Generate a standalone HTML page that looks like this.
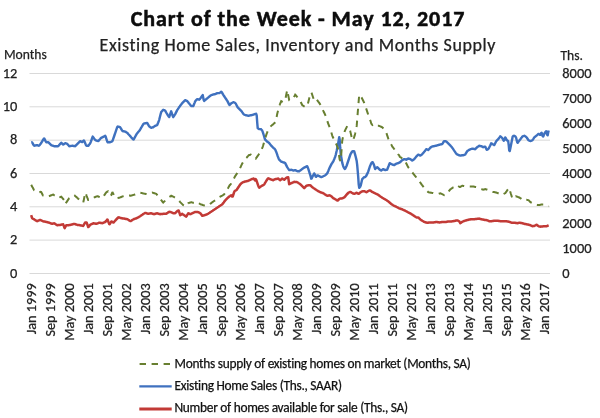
<!DOCTYPE html>
<html><head><meta charset="utf-8"><style>
html,body{margin:0;padding:0;background:#fff;}
body{width:600px;height:418px;overflow:hidden;position:relative;}
svg{position:absolute;left:0;top:0;}
text{font-family:Carlito,"Liberation Sans",sans-serif;fill:#222;stroke:#222;stroke-width:0.25px;}
.ax{font-size:14.4px;}
.xl{font-size:14.3px;}
.t1{font-size:22px;font-weight:bold;fill:#0d0d0d;letter-spacing:0.92px;stroke:#0d0d0d;stroke-width:0.5px;}
.t2{font-size:18px;letter-spacing:0.58px;}
.lab{font-size:13.6px;}
.lg{font-size:13.4px;letter-spacing:-0.28px;fill:#111;stroke:#111;}
</style></head><body>
<svg width="600" height="418" viewBox="0 0 600 418">
<text x="298" y="26" text-anchor="middle" class="t1">Chart of the Week - May 12, 2017</text>
<text x="297.8" y="51.3" text-anchor="middle" class="t2">Existing Home Sales, Inventory and Months Supply</text>
<text x="4" y="58.8" class="lab">Months</text>
<text x="560.5" y="59.7" class="lab">Ths.</text>
<line x1="29.5" y1="73.5" x2="550" y2="73.5" stroke="#d9d9d9" stroke-width="1"/>
<line x1="29.5" y1="106.8" x2="550" y2="106.8" stroke="#d9d9d9" stroke-width="1"/>
<line x1="29.5" y1="140.2" x2="550" y2="140.2" stroke="#d9d9d9" stroke-width="1"/>
<line x1="29.5" y1="173.5" x2="550" y2="173.5" stroke="#d9d9d9" stroke-width="1"/>
<line x1="29.5" y1="206.8" x2="550" y2="206.8" stroke="#d9d9d9" stroke-width="1"/>
<line x1="29.5" y1="240.1" x2="550" y2="240.1" stroke="#d9d9d9" stroke-width="1"/>
<line x1="29.5" y1="273.5" x2="550" y2="273.5" stroke="#d9d9d9" stroke-width="1"/>
<polyline points="31.2,215.2 31.7,217.0 32.2,218.3 32.7,218.6 33.2,218.8 33.7,219.1 34.2,219.4 34.7,219.7 35.2,220.0 35.7,220.4 36.2,220.7 36.7,221.0 37.2,221.2 37.7,221.0 38.2,220.7 38.7,220.5 39.2,220.3 39.7,220.0 40.2,219.9 40.7,220.1 41.2,220.4 41.7,220.6 42.2,220.8 42.7,221.1 43.2,221.3 43.7,221.4 44.2,221.5 44.7,221.6 45.2,221.7 45.7,221.8 46.2,221.9 46.7,222.0 47.2,222.2 47.7,222.3 48.2,222.4 48.7,222.6 49.2,222.7 49.7,222.9 50.2,223.1 50.7,223.3 51.2,223.5 51.7,223.7 52.2,223.8 52.7,223.7 53.2,223.5 53.7,223.4 54.2,223.3 54.7,223.6 55.2,224.0 55.7,224.3 56.2,224.6 56.7,225.0 57.2,225.3 57.7,225.2 58.2,225.1 58.7,225.1 59.2,225.0 59.7,224.9 60.2,224.9 60.7,224.8 61.2,224.7 61.7,224.6 62.2,224.5 62.7,224.4 63.2,224.3 63.7,225.7 64.2,227.2 64.7,228.1 65.2,227.2 65.7,226.2 66.2,225.3 66.7,225.3 67.2,225.3 67.7,225.3 68.2,225.3 68.7,225.2 69.2,225.1 69.7,225.0 70.2,224.9 70.7,224.8 71.2,224.7 71.7,224.5 72.2,224.4 72.7,224.3 73.2,224.1 73.7,224.0 74.2,223.9 74.7,224.0 75.2,224.2 75.7,224.4 76.2,224.5 76.7,224.7 77.2,224.9 77.7,224.9 78.2,225.0 78.7,225.1 79.2,225.1 79.7,225.2 80.2,225.3 80.7,225.4 81.2,225.5 81.7,225.6 82.2,225.7 82.7,225.8 83.2,225.9 83.7,225.1 84.2,224.2 84.7,223.3 85.2,222.4 85.7,222.4 86.2,222.5 86.7,222.7 87.2,224.1 87.7,225.5 88.2,227.0 88.7,226.8 89.2,226.1 89.7,225.5 90.2,224.8 90.7,224.5 91.2,224.3 91.7,224.0 92.2,223.8 92.7,223.6 93.2,223.3 93.7,223.3 94.2,223.4 94.7,223.5 95.2,223.6 95.7,223.7 96.2,223.8 96.7,223.7 97.2,223.5 97.7,223.3 98.2,223.1 98.7,222.9 99.2,222.7 99.7,222.7 100.2,222.8 100.7,222.9 101.2,223.0 101.7,223.1 102.2,223.2 102.7,223.1 103.2,222.9 103.7,222.7 104.2,222.4 104.7,222.2 105.2,222.0 105.7,221.5 106.2,220.8 106.7,220.2 107.2,219.5 107.7,220.0 108.2,221.4 108.7,222.7 109.2,224.1 109.7,224.2 110.2,223.3 110.7,222.5 111.2,221.6 111.7,221.4 112.2,221.8 112.7,222.1 113.2,222.5 113.7,222.4 114.2,221.8 114.7,221.2 115.2,220.7 115.7,220.1 116.2,219.5 116.7,219.0 117.2,218.5 117.7,218.0 118.2,217.5 118.7,217.3 119.2,217.5 119.7,217.6 120.2,217.8 120.7,218.0 121.2,218.1 121.7,218.3 122.2,218.3 122.7,218.4 123.2,218.5 123.7,218.5 124.2,218.6 124.7,218.7 125.2,218.8 125.7,218.9 126.2,219.0 126.7,219.1 127.2,219.2 127.7,219.4 128.2,219.7 128.7,220.0 129.2,220.4 129.7,220.7 130.2,221.0 130.7,221.1 131.2,220.8 131.7,220.5 132.2,220.1 132.7,219.8 133.2,219.5 133.7,219.2 134.2,219.0 134.7,218.9 135.2,218.7 135.7,218.5 136.2,218.4 136.7,218.2 137.2,217.9 137.7,217.6 138.2,217.4 138.7,217.1 139.2,216.8 139.7,216.5 140.2,216.2 140.7,215.8 141.2,215.5 141.7,215.1 142.2,214.8 142.7,214.5 143.2,214.1 143.7,213.8 144.2,213.5 144.7,213.2 145.2,213.0 145.7,212.9 146.2,213.1 146.7,213.3 147.2,213.5 147.7,213.7 148.2,213.8 148.7,213.7 149.2,213.6 149.7,213.5 150.2,213.4 150.7,213.3 151.2,213.3 151.7,213.4 152.2,213.6 152.7,213.8 153.2,213.9 153.7,214.1 154.2,214.2 154.7,214.0 155.2,213.8 155.7,213.7 156.2,213.5 156.7,213.3 157.2,213.3 157.7,213.4 158.2,213.6 158.7,213.8 159.2,213.9 159.7,214.1 160.2,214.2 160.7,214.1 161.2,214.1 161.7,214.0 162.2,213.9 162.7,213.9 163.2,213.8 163.7,213.8 164.2,213.8 164.7,213.8 165.2,213.8 165.7,213.8 166.2,213.8 166.7,213.4 167.2,213.1 167.7,212.8 168.2,212.4 168.7,212.1 169.2,211.8 169.7,211.9 170.2,212.0 170.7,212.1 171.2,212.2 171.7,212.5 172.2,212.7 172.7,213.0 173.2,213.2 173.7,213.2 174.2,213.2 174.7,213.2 175.2,213.2 175.7,212.7 176.2,212.2 176.7,211.7 177.2,211.2 177.7,210.8 178.2,210.5 178.7,210.5 179.2,212.1 179.7,213.6 180.2,215.2 180.7,214.9 181.2,214.5 181.7,214.2 182.2,213.8 182.7,214.2 183.2,214.5 183.7,214.9 184.2,215.2 184.7,215.6 185.2,215.9 185.7,216.3 186.2,216.6 186.7,215.9 187.2,215.0 187.7,214.2 188.2,213.3 188.7,213.4 189.2,213.7 189.7,213.9 190.2,214.2 190.7,214.0 191.2,213.8 191.7,213.5 192.2,213.3 192.7,213.0 193.2,212.8 193.7,212.6 194.2,212.3 194.7,212.1 195.2,211.9 195.7,211.9 196.2,211.9 196.7,212.0 197.2,212.1 197.7,212.1 198.2,212.2 198.7,212.4 199.2,212.7 199.7,212.9 200.2,213.2 200.7,213.7 201.2,214.4 201.7,215.0 202.2,215.7 202.7,215.7 203.2,215.6 203.7,215.4 204.2,215.3 204.7,215.1 205.2,214.9 205.7,214.8 206.2,214.6 206.7,214.4 207.2,214.3 207.7,214.0 208.2,213.7 208.7,213.3 209.2,213.0 209.7,212.7 210.2,212.3 210.7,212.0 211.2,211.7 211.7,211.3 212.2,211.0 212.7,210.7 213.2,210.3 213.7,210.0 214.2,209.7 214.7,209.3 215.2,209.0 215.7,208.7 216.2,208.3 216.7,208.0 217.2,207.7 217.7,207.3 218.2,207.0 218.7,206.7 219.2,206.3 219.7,206.0 220.2,205.7 220.7,205.3 221.2,205.0 221.7,204.7 222.2,204.3 222.7,203.8 223.2,203.1 223.7,202.5 224.2,201.8 224.7,201.1 225.2,200.5 225.7,199.9 226.2,199.4 226.7,198.9 227.2,198.4 227.7,197.9 228.2,197.4 228.7,197.0 229.2,196.6 229.7,196.3 230.2,196.0 230.7,195.6 231.2,195.3 231.7,195.6 232.2,196.6 232.7,196.5 233.2,195.0 233.7,193.5 234.2,192.0 234.7,191.0 235.2,190.7 235.7,190.5 236.2,190.2 236.7,189.8 237.2,189.0 237.7,188.3 238.2,187.5 238.7,186.8 239.2,186.0 239.7,185.3 240.2,184.5 240.7,183.9 241.2,183.5 241.7,183.1 242.2,182.7 242.7,182.4 243.2,182.2 243.7,182.0 244.2,181.8 244.7,181.6 245.2,181.5 245.7,181.4 246.2,181.3 246.7,181.2 247.2,181.1 247.7,181.0 248.2,180.8 248.7,180.5 249.2,180.3 249.7,180.1 250.2,179.8 250.7,179.6 251.2,179.4 251.7,179.2 252.2,179.0 252.7,178.8 253.2,178.6 253.7,178.6 254.2,179.2 254.7,179.9 255.2,180.5 255.7,179.1 256.2,179.7 256.7,181.2 257.2,182.7 257.7,184.2 258.2,185.6 258.7,186.9 259.2,187.7 259.7,187.3 260.2,186.9 260.7,186.5 261.2,186.2 261.7,185.9 262.2,185.6 262.7,185.4 263.2,185.1 263.7,184.8 264.2,184.4 264.7,183.6 265.2,182.7 265.7,181.9 266.2,181.0 266.7,180.3 267.2,179.5 267.7,178.8 268.2,178.2 268.7,178.5 269.2,178.7 269.7,179.0 270.2,179.2 270.7,179.4 271.2,179.6 271.7,179.7 272.2,179.9 272.7,180.1 273.2,180.2 273.7,179.9 274.2,179.7 274.7,179.4 275.2,179.2 275.7,179.1 276.2,179.0 276.7,178.9 277.2,178.8 277.7,178.7 278.2,178.6 278.7,179.0 279.2,179.4 279.7,179.8 280.2,180.2 280.7,179.8 281.2,179.4 281.7,179.0 282.2,178.6 282.7,178.9 283.2,179.2 283.7,179.5 284.2,179.8 284.7,179.3 285.2,178.8 285.7,178.3 286.2,177.8 286.7,177.6 287.2,177.5 287.7,177.3 288.2,177.2 288.7,180.7 289.2,184.2 289.7,184.0 290.2,183.7 290.7,183.5 291.2,183.2 291.7,183.0 292.2,182.8 292.7,182.5 293.2,182.3 293.7,182.1 294.2,181.8 294.7,181.9 295.2,181.9 295.7,182.0 296.2,182.1 296.7,182.1 297.2,182.2 297.7,182.5 298.2,182.8 298.7,183.2 299.2,183.5 299.7,183.8 300.2,184.2 300.7,184.7 301.2,185.2 301.7,185.7 302.2,186.2 302.7,186.7 303.2,187.2 303.7,187.7 304.2,188.2 304.7,187.7 305.2,187.1 305.7,186.5 306.2,185.9 306.7,185.7 307.2,185.6 307.7,185.4 308.2,185.3 308.7,185.2 309.2,185.2 309.7,185.2 310.2,185.2 310.7,185.6 311.2,186.1 311.7,186.6 312.2,187.1 312.7,187.5 313.2,187.8 313.7,188.2 314.2,188.5 314.7,188.8 315.2,189.2 315.7,189.5 316.2,189.8 316.7,190.2 317.2,190.5 317.7,190.8 318.2,191.2 318.7,191.4 319.2,191.7 319.7,191.9 320.2,192.2 320.7,192.4 321.2,192.5 321.7,192.7 322.2,192.9 322.7,193.0 323.2,193.2 323.7,193.5 324.2,193.8 324.7,194.2 325.2,194.5 325.7,194.9 326.2,195.2 326.7,195.5 327.2,195.8 327.7,195.8 328.2,195.6 328.7,195.5 329.2,195.3 329.7,195.4 330.2,195.7 330.7,195.9 331.2,196.2 331.7,196.6 332.2,197.1 332.7,197.6 333.2,198.1 333.7,198.4 334.2,198.7 334.7,198.9 335.2,199.2 335.7,199.5 336.2,199.8 336.7,200.2 337.2,200.5 337.7,200.5 338.2,200.0 338.7,199.5 339.2,199.0 339.7,198.7 340.2,198.6 340.7,198.5 341.2,198.5 341.7,198.4 342.2,198.3 342.7,198.2 343.2,197.9 343.7,197.7 344.2,197.4 344.7,197.0 345.2,196.4 345.7,195.7 346.2,195.1 346.7,194.5 347.2,194.0 347.7,193.5 348.2,193.0 348.7,192.6 349.2,192.4 349.7,192.2 350.2,192.0 350.7,192.0 351.2,192.3 351.7,192.7 352.2,193.0 352.7,193.3 353.2,193.5 353.7,193.6 354.2,193.8 354.7,193.8 355.2,193.5 355.7,193.2 356.2,192.9 356.7,192.8 357.2,193.1 357.7,193.4 358.2,193.7 358.7,193.8 359.2,193.4 359.7,193.0 360.2,192.6 360.7,192.2 361.2,191.9 361.7,191.7 362.2,191.4 362.7,191.3 363.2,191.3 363.7,191.3 364.2,191.3 364.7,191.3 365.2,191.6 365.7,191.8 366.2,192.1 366.7,192.2 367.2,191.7 367.7,191.4 368.2,191.2 368.7,190.9 369.2,190.7 369.7,190.4 370.2,190.4 370.7,190.8 371.2,191.2 371.7,191.6 372.2,191.9 372.7,192.2 373.2,192.4 373.7,192.6 374.2,192.9 374.7,193.1 375.2,193.3 375.7,193.6 376.2,193.8 376.7,194.0 377.2,194.3 377.7,194.5 378.2,194.8 378.7,195.2 379.2,195.6 379.7,196.0 380.2,196.3 380.7,196.7 381.2,197.0 381.7,197.3 382.2,197.7 382.7,198.0 383.2,198.3 383.7,198.6 384.2,198.8 384.7,199.1 385.2,199.3 385.7,199.7 386.2,200.0 386.7,200.3 387.2,200.7 387.7,201.0 388.2,201.3 388.7,201.8 389.2,202.2 389.7,202.6 390.2,203.1 390.7,203.5 391.2,203.9 391.7,204.3 392.2,204.6 392.7,205.0 393.2,205.3 393.7,205.6 394.2,205.8 394.7,206.0 395.2,206.3 395.7,206.5 396.2,206.7 396.7,207.0 397.2,207.3 397.7,207.5 398.2,207.8 398.7,208.1 399.2,208.3 399.7,208.5 400.2,208.7 400.7,208.8 401.2,209.0 401.7,209.2 402.2,209.3 402.7,209.6 403.2,209.8 403.7,210.0 404.2,210.3 404.7,210.5 405.2,210.7 405.7,211.0 406.2,211.3 406.7,211.5 407.2,211.8 407.7,212.1 408.2,212.3 408.7,212.6 409.2,212.9 409.7,213.1 410.2,213.4 410.7,213.7 411.2,213.9 411.7,214.3 412.2,214.6 412.7,214.9 413.2,215.3 413.7,215.6 414.2,215.9 414.7,216.3 415.2,216.6 415.7,217.0 416.2,217.3 416.7,217.4 417.2,217.4 417.7,217.4 418.2,217.4 418.7,217.8 419.2,218.3 419.7,218.8 420.2,219.3 420.7,219.7 421.2,220.0 421.7,220.4 422.2,220.7 422.7,221.0 423.2,221.3 423.7,221.6 424.2,221.9 424.7,222.1 425.2,222.2 425.7,222.4 426.2,222.5 426.7,222.6 427.2,222.8 427.7,222.8 428.2,222.7 428.7,222.6 429.2,222.6 429.7,222.5 430.2,222.4 430.7,222.4 431.2,222.4 431.7,222.4 432.2,222.4 432.7,222.4 433.2,222.4 433.7,222.4 434.2,222.3 434.7,222.2 435.2,222.2 435.7,222.1 436.2,222.0 436.7,222.1 437.2,222.1 437.7,222.2 438.2,222.3 438.7,222.3 439.2,222.4 439.7,222.4 440.2,222.3 440.7,222.2 441.2,222.2 441.7,222.1 442.2,222.0 442.7,222.0 443.2,222.0 443.7,222.0 444.2,222.0 444.7,222.0 445.2,222.0 445.7,222.0 446.2,221.9 446.7,221.8 447.2,221.7 447.7,221.6 448.2,221.5 448.7,221.4 449.2,221.4 449.7,221.4 450.2,221.4 450.7,221.4 451.2,221.4 451.7,221.4 452.2,221.3 452.7,221.2 453.2,221.2 453.7,221.1 454.2,221.0 454.7,220.9 455.2,220.8 455.7,220.6 456.2,220.5 456.7,220.4 457.2,220.5 457.7,220.6 458.2,220.7 458.7,221.0 459.2,221.4 459.7,221.8 460.2,223.2 460.7,222.9 461.2,222.5 461.7,222.2 462.2,221.8 462.7,221.6 463.2,221.4 463.7,221.2 464.2,221.0 464.7,220.8 465.2,220.6 465.7,220.5 466.2,220.4 466.7,220.2 467.2,220.1 467.7,220.0 468.2,219.8 468.7,219.7 469.2,219.6 469.7,219.5 470.2,219.4 470.7,219.3 471.2,219.2 471.7,219.2 472.2,219.2 472.7,219.2 473.2,219.2 473.7,219.2 474.2,219.2 474.7,219.2 475.2,219.1 475.7,219.0 476.2,219.0 476.7,218.9 477.2,218.8 477.7,218.8 478.2,218.7 478.7,218.7 479.2,218.6 479.7,218.8 480.2,218.9 480.7,219.1 481.2,219.2 481.7,219.3 482.2,219.4 482.7,219.5 483.2,219.6 483.7,219.7 484.2,219.8 484.7,219.9 485.2,220.0 485.7,220.0 486.2,220.1 486.7,220.2 487.2,220.2 487.7,220.5 488.2,220.7 488.7,221.0 489.2,221.2 489.7,221.3 490.2,221.3 490.7,221.3 491.2,221.3 491.7,221.2 492.2,221.1 492.7,221.0 493.2,220.9 493.7,220.8 494.2,220.7 494.7,220.7 495.2,220.7 495.7,220.7 496.2,220.7 496.7,220.7 497.2,220.7 497.7,220.7 498.2,220.8 498.7,220.9 499.2,221.0 499.7,221.1 500.2,221.2 500.7,221.3 501.2,221.3 501.7,221.3 502.2,221.3 502.7,221.3 503.2,221.3 503.7,221.3 504.2,221.3 504.7,221.3 505.2,221.3 505.7,221.3 506.2,221.3 506.7,221.3 507.2,221.4 507.7,221.5 508.2,221.6 508.7,221.7 509.2,221.8 509.7,222.0 510.2,222.2 510.7,222.4 511.2,222.6 511.7,222.7 512.2,222.7 512.7,222.7 513.2,222.7 513.7,222.7 514.2,222.7 514.7,222.7 515.2,222.8 515.7,222.9 516.2,223.0 516.7,223.1 517.2,223.2 517.7,223.2 518.2,223.0 518.7,222.9 519.2,222.7 519.7,222.7 520.2,222.8 520.7,222.9 521.2,223.0 521.7,223.1 522.2,223.2 522.7,223.3 523.2,223.5 523.7,223.6 524.2,223.8 524.7,223.9 525.2,224.0 525.7,224.1 526.2,224.2 526.7,224.3 527.2,224.4 527.7,224.5 528.2,224.6 528.7,224.7 529.2,224.9 529.7,225.0 530.2,225.2 530.7,225.4 531.2,225.6 531.7,225.9 532.2,226.1 532.7,226.2 533.2,226.1 533.7,226.0 534.2,225.9 534.7,225.8 535.2,225.5 535.7,225.2 536.2,224.9 536.7,224.8 537.2,225.2 537.7,225.6 538.2,226.0 538.7,226.3 539.2,226.4 539.7,226.5 540.2,226.6 540.7,226.7 541.2,226.6 541.7,226.5 542.2,226.5 542.7,226.4 543.2,226.3 543.7,226.3 544.2,226.3 544.7,226.3 545.2,226.3 545.7,226.3 546.2,226.3 546.7,226.2 547.2,226.0 547.7,225.7 548.2,225.5 548.7,225.3" fill="none" stroke="#c23a36" stroke-width="2.5" stroke-linejoin="round"/>
<polyline points="31.2,142.2 31.7,142.2 32.2,142.5 32.7,143.4 33.2,144.3 33.7,145.2 34.2,145.7 34.7,145.6 35.2,145.5 35.7,145.4 36.2,145.3 36.7,145.2 37.2,145.2 37.7,145.4 38.2,145.5 38.7,145.7 39.2,145.6 39.7,145.0 40.2,144.3 40.7,143.7 41.2,143.0 41.7,142.1 42.2,141.3 42.7,140.5 43.2,139.6 43.7,138.8 44.2,138.4 44.7,139.4 45.2,140.4 45.7,141.4 46.2,142.2 46.7,142.2 47.2,142.2 47.7,142.2 48.2,142.2 48.7,142.7 49.2,143.2 49.7,143.7 50.2,144.2 50.7,144.7 51.2,145.2 51.7,145.4 52.2,145.5 52.7,145.7 53.2,145.9 53.7,146.0 54.2,146.2 54.7,146.2 55.2,146.2 55.7,146.2 56.2,146.2 56.7,146.2 57.2,146.2 57.7,146.2 58.2,146.1 58.7,145.6 59.2,145.0 59.7,144.4 60.2,143.9 60.7,143.3 61.2,142.8 61.7,143.2 62.2,143.7 62.7,144.1 63.2,144.6 63.7,144.2 64.2,143.9 64.7,143.5 65.2,143.2 65.7,143.3 66.2,143.5 66.7,143.6 67.2,143.8 67.7,144.4 68.2,145.0 68.7,145.6 69.2,146.2 69.7,146.1 70.2,146.1 70.7,146.0 71.2,145.9 71.7,145.9 72.2,145.8 72.7,145.8 73.2,145.9 73.7,146.0 74.2,146.0 74.7,146.1 75.2,146.2 75.7,145.7 76.2,145.2 76.7,144.7 77.2,144.2 77.7,143.7 78.2,143.2 78.7,142.7 79.2,142.2 79.7,141.7 80.2,141.2 80.7,141.4 81.2,141.6 81.7,141.9 82.2,142.1 82.7,141.6 83.2,141.0 83.7,140.4 84.2,140.9 84.7,142.0 85.2,143.2 85.7,144.4 86.2,145.5 86.7,145.8 87.2,145.8 87.7,145.8 88.2,145.8 88.7,145.3 89.2,144.6 89.7,144.0 90.2,143.3 90.7,142.1 91.2,140.8 91.7,139.4 92.2,138.0 92.7,136.6 93.2,137.2 93.7,137.9 94.2,138.6 94.7,139.3 95.2,139.9 95.7,140.3 96.2,140.4 96.7,140.6 97.2,140.8 97.7,140.9 98.2,141.1 98.7,140.7 99.2,140.1 99.7,139.5 100.2,138.9 100.7,138.2 101.2,137.9 101.7,137.7 102.2,137.4 102.7,137.2 103.2,136.9 103.7,136.6 104.2,136.4 104.7,136.1 105.2,135.8 105.7,136.7 106.2,138.3 106.7,139.9 107.2,141.5 107.7,142.2 108.2,142.2 108.7,142.2 109.2,142.2 109.7,142.2 110.2,142.2 110.7,142.0 111.2,141.8 111.7,141.5 112.2,141.3 112.7,140.4 113.2,138.9 113.7,137.5 114.2,136.0 114.7,134.5 115.2,133.1 115.7,131.6 116.2,130.2 116.7,128.7 117.2,127.2 117.7,126.5 118.2,126.7 118.7,126.8 119.2,126.9 119.7,127.0 120.2,127.3 120.7,128.1 121.2,129.0 121.7,129.8 122.2,130.6 122.7,131.1 123.2,131.2 123.7,131.3 124.2,131.4 124.7,131.5 125.2,131.6 125.7,131.8 126.2,132.2 126.7,132.5 127.2,132.9 127.7,133.3 128.2,133.9 128.7,134.5 129.2,135.0 129.7,135.6 130.2,136.2 130.7,136.7 131.2,137.3 131.7,137.8 132.2,138.3 132.7,138.9 133.2,139.4 133.7,139.5 134.2,138.5 134.7,137.6 135.2,136.7 135.7,135.7 136.2,134.8 136.7,133.9 137.2,133.3 137.7,132.7 138.2,132.1 138.7,131.5 139.2,130.9 139.7,130.3 140.2,129.4 140.7,128.6 141.2,127.7 141.7,126.9 142.2,126.0 142.7,125.2 143.2,124.3 143.7,123.6 144.2,123.5 144.7,123.4 145.2,123.3 145.7,123.2 146.2,123.1 146.7,123.0 147.2,122.9 147.7,123.8 148.2,124.7 148.7,125.6 149.2,126.3 149.7,126.7 150.2,127.1 150.7,127.5 151.2,127.8 151.7,127.6 152.2,127.5 152.7,127.3 153.2,127.2 153.7,126.8 154.2,126.5 154.7,126.1 155.2,125.8 155.7,125.6 156.2,125.5 156.7,125.3 157.2,125.0 157.7,123.7 158.2,122.5 158.7,121.2 159.2,119.8 159.7,117.8 160.2,115.8 160.7,113.8 161.2,112.1 161.7,111.5 162.2,110.9 162.7,110.3 163.2,109.8 163.7,110.0 164.2,110.2 164.7,110.4 165.2,110.7 165.7,111.6 166.2,112.5 166.7,113.4 167.2,114.2 167.7,115.0 168.2,115.7 168.7,116.5 169.2,117.1 169.7,115.6 170.2,114.1 170.7,112.6 171.2,111.3 171.7,112.8 172.2,114.3 172.7,115.8 173.2,117.2 173.7,116.4 174.2,115.7 174.7,114.9 175.2,114.1 175.7,113.1 176.2,112.1 176.7,111.1 177.2,110.1 177.7,109.4 178.2,108.6 178.7,107.9 179.2,107.1 179.7,106.5 180.2,105.8 180.7,105.1 181.2,104.5 181.7,103.8 182.2,103.1 182.7,102.6 183.2,102.1 183.7,101.6 184.2,101.1 184.7,100.6 185.2,100.1 185.7,100.3 186.2,100.6 186.7,100.8 187.2,101.1 187.7,101.7 188.2,102.3 188.7,103.0 189.2,103.6 189.7,104.2 190.2,104.8 190.7,105.4 191.2,106.0 191.7,106.1 192.2,106.1 192.7,106.1 193.2,106.1 193.7,105.1 194.2,103.8 194.7,102.6 195.2,101.3 195.7,100.7 196.2,100.2 196.7,99.7 197.2,99.2 197.7,99.2 198.2,99.4 198.7,99.5 199.2,99.7 199.7,99.2 200.2,98.5 200.7,97.9 201.2,97.2 201.7,96.5 202.2,95.8 202.7,95.1 203.2,97.4 203.7,99.9 204.2,100.9 204.7,100.5 205.2,100.0 205.7,99.6 206.2,99.2 206.7,98.8 207.2,98.4 207.7,97.9 208.2,97.5 208.7,97.1 209.2,96.6 209.7,96.2 210.2,95.9 210.7,95.5 211.2,95.2 211.7,95.0 212.2,94.8 212.7,94.7 213.2,94.5 213.7,94.4 214.2,94.3 214.7,94.2 215.2,94.1 215.7,93.9 216.2,93.7 216.7,93.4 217.2,93.2 217.7,93.1 218.2,93.1 218.7,93.1 219.2,93.1 219.7,92.9 220.2,92.5 220.7,92.2 221.2,91.8 221.7,92.1 222.2,93.0 222.7,93.8 223.2,94.7 223.7,95.5 224.2,96.2 224.7,97.0 225.2,97.7 225.7,98.5 226.2,99.2 226.7,100.0 227.2,100.7 227.7,101.6 228.2,102.6 228.7,103.6 229.2,104.6 229.7,104.9 230.2,104.4 230.7,103.9 231.2,103.4 231.7,103.0 232.2,102.8 232.7,102.5 233.2,102.3 233.7,102.2 234.2,102.5 234.7,102.7 235.2,103.0 235.7,103.5 236.2,104.5 236.7,105.5 237.2,106.5 237.7,107.3 238.2,107.8 238.7,108.3 239.2,108.8 239.7,109.3 240.2,109.8 240.7,110.3 241.2,110.8 241.7,111.4 242.2,112.2 242.7,112.9 243.2,113.7 243.7,114.3 244.2,114.5 244.7,114.8 245.2,115.0 245.7,115.2 246.2,115.3 246.7,115.4 247.2,115.5 247.7,115.6 248.2,115.7 248.7,115.7 249.2,115.6 249.7,115.5 250.2,115.4 250.7,115.3 251.2,115.2 251.7,115.1 252.2,115.0 252.7,114.8 253.2,114.6 253.7,114.5 254.2,114.3 254.7,114.1 255.2,114.0 255.7,113.9 256.2,113.8 256.7,115.3 257.2,122.4 257.7,128.1 258.2,128.5 258.7,128.9 259.2,129.1 259.7,129.1 260.2,129.1 260.7,129.1 261.2,129.4 261.7,130.0 262.2,130.6 262.7,131.9 263.2,133.4 263.7,135.0 264.2,136.7 264.7,138.5 265.2,139.7 265.7,140.2 266.2,140.7 266.7,141.2 267.2,141.6 267.7,141.9 268.2,142.3 268.7,142.6 269.2,143.1 269.7,143.7 270.2,144.4 270.7,145.1 271.2,145.7 271.7,146.2 272.2,146.7 272.7,147.2 273.2,147.6 273.7,148.1 274.2,148.5 274.7,148.9 275.2,149.6 275.7,150.7 276.2,151.8 276.7,153.2 277.2,154.7 277.7,156.2 278.2,157.4 278.7,158.7 279.2,159.7 279.7,160.2 280.2,160.7 280.7,161.2 281.2,161.6 281.7,161.8 282.2,161.9 282.7,162.1 283.2,162.3 283.7,162.6 284.2,162.4 284.7,162.8 285.2,163.1 285.7,164.1 286.2,165.1 286.7,166.1 287.2,167.1 287.7,167.9 288.2,168.6 288.7,169.4 289.2,170.1 289.7,170.1 290.2,170.0 290.7,169.9 291.2,169.8 291.7,169.9 292.2,170.1 292.7,170.3 293.2,170.5 293.7,170.5 294.2,170.4 294.7,170.3 295.2,170.2 295.7,170.4 296.2,170.6 296.7,170.9 297.2,171.1 297.7,171.2 298.2,171.2 298.7,171.2 299.2,171.2 299.7,170.8 300.2,170.5 300.7,170.1 301.2,169.8 301.7,169.4 302.2,169.0 302.7,168.6 303.2,168.2 303.7,167.9 304.2,167.7 304.7,167.4 305.2,167.2 305.7,166.9 306.2,166.7 306.7,166.4 307.2,166.2 307.7,167.3 308.2,168.7 308.7,170.1 309.2,171.7 309.7,173.3 310.2,174.8 310.7,176.7 311.2,178.7 311.7,178.4 312.2,177.3 312.7,176.2 313.2,175.3 313.7,174.4 314.2,173.4 314.7,174.1 315.2,175.3 315.7,176.6 316.2,176.8 316.7,176.1 317.2,175.4 317.7,175.4 318.2,175.6 318.7,175.9 319.2,176.1 319.7,176.4 320.2,176.6 320.7,176.9 321.2,177.1 321.7,177.0 322.2,176.8 322.7,176.5 323.2,176.3 323.7,176.0 324.2,175.8 324.7,175.5 325.2,175.3 325.7,174.9 326.2,174.4 326.7,173.9 327.2,173.4 327.7,172.4 328.2,171.2 328.7,169.9 329.2,168.7 329.7,167.6 330.2,166.6 330.7,165.6 331.2,164.6 331.7,163.7 332.2,163.0 332.7,162.2 333.2,161.5 333.7,160.4 334.2,159.2 334.7,157.9 335.2,156.7 335.7,155.0 336.2,152.8 336.7,150.7 337.2,148.3 337.7,145.8 338.2,143.1 338.7,140.1 339.2,137.1 339.7,139.5 340.2,147.7 340.7,153.5 341.2,156.7 341.7,159.8 342.2,162.6 342.7,164.3 343.2,166.1 343.7,167.4 344.2,168.2 344.7,168.9 345.2,168.6 345.7,167.6 346.2,166.7 346.7,165.5 347.2,164.0 347.7,162.5 348.2,161.0 348.7,159.5 349.2,158.0 349.7,156.5 350.2,155.0 350.7,153.8 351.2,153.0 351.7,152.3 352.2,151.5 352.7,151.1 353.2,151.1 353.7,151.1 354.2,151.3 354.7,153.1 355.2,154.9 355.7,156.8 356.2,158.9 356.7,161.1 357.2,165.1 357.7,170.9 358.2,176.9 358.7,184.4 359.2,187.9 359.7,187.3 360.2,186.7 360.7,185.6 361.2,183.5 361.7,181.3 362.2,179.2 362.7,178.7 363.2,178.2 363.7,177.7 364.2,177.2 364.7,177.1 365.2,177.0 365.7,176.4 366.2,175.9 366.7,174.9 367.2,173.9 367.7,172.9 368.2,171.7 368.7,170.1 369.2,168.6 369.7,167.0 370.2,165.8 370.7,164.6 371.2,163.5 371.7,162.8 372.2,162.1 372.7,162.2 373.2,163.2 373.7,164.3 374.2,165.6 374.7,167.6 375.2,169.0 375.7,168.5 376.2,168.0 376.7,167.5 377.2,167.2 377.7,167.7 378.2,168.2 378.7,168.7 379.2,169.2 379.7,169.6 380.2,169.9 380.7,170.3 381.2,170.5 381.7,170.1 382.2,169.8 382.7,169.4 383.2,169.2 383.7,169.4 384.2,169.7 384.7,169.9 385.2,170.1 385.7,170.0 386.2,169.9 386.7,169.8 387.2,169.6 387.7,168.3 388.2,167.0 388.7,165.8 389.2,164.5 389.7,163.3 390.2,163.4 390.7,163.7 391.2,164.0 391.7,164.2 392.2,164.5 392.7,164.7 393.2,164.8 393.7,165.0 394.2,165.1 394.7,164.8 395.2,164.4 395.7,164.1 396.2,163.7 396.7,163.6 397.2,163.4 397.7,163.3 398.2,163.1 398.7,162.9 399.2,162.6 399.7,162.4 400.2,162.1 400.7,161.6 401.2,161.1 401.7,160.6 402.2,160.1 402.7,159.9 403.2,159.6 403.7,159.4 404.2,159.1 404.7,159.2 405.2,159.4 405.7,159.5 406.2,159.7 406.7,159.4 407.2,159.1 407.7,158.8 408.2,158.5 408.7,158.6 409.2,158.8 409.7,158.9 410.2,159.1 410.7,159.4 411.2,159.8 411.7,160.1 412.2,160.5 412.7,160.2 413.2,159.9 413.7,159.5 414.2,159.2 414.7,158.6 415.2,157.9 415.7,157.3 416.2,156.6 416.7,156.1 417.2,155.6 417.7,155.1 418.2,154.6 418.7,154.7 419.2,155.0 419.7,155.3 420.2,155.6 420.7,155.4 421.2,155.0 421.7,154.6 422.2,154.2 422.7,153.6 423.2,153.0 423.7,152.4 424.2,151.8 424.7,151.2 425.2,150.5 425.7,149.9 426.2,149.2 426.7,149.2 427.2,149.5 427.7,149.7 428.2,150.0 428.7,149.6 429.2,149.0 429.7,148.4 430.2,147.8 430.7,147.4 431.2,147.1 431.7,146.8 432.2,146.5 432.7,146.4 433.2,146.3 433.7,146.2 434.2,146.1 434.7,146.0 435.2,145.9 435.7,145.8 436.2,145.7 436.7,145.5 437.2,145.4 437.7,145.2 438.2,145.1 438.7,144.9 439.2,144.8 439.7,144.6 440.2,144.5 440.7,144.4 441.2,144.3 441.7,144.2 442.2,144.1 442.7,143.5 443.2,142.5 443.7,141.7 444.2,141.2 444.7,141.1 445.2,141.2 445.7,141.4 446.2,141.5 446.7,141.9 447.2,142.4 447.7,142.9 448.2,143.4 448.7,143.9 449.2,144.4 449.7,144.9 450.2,145.4 450.7,145.9 451.2,146.5 451.7,147.1 452.2,147.7 452.7,148.4 453.2,149.1 453.7,149.9 454.2,150.6 454.7,151.4 455.2,152.1 455.7,152.9 456.2,153.6 456.7,154.2 457.2,154.4 457.7,154.7 458.2,154.9 458.7,155.1 459.2,155.3 459.7,155.4 460.2,155.6 460.7,155.6 461.2,155.5 461.7,155.3 462.2,155.2 462.7,155.2 463.2,155.2 463.7,155.1 464.2,154.9 464.7,154.8 465.2,154.5 465.7,153.7 466.2,152.8 466.7,152.0 467.2,151.2 467.7,150.8 468.2,150.5 468.7,150.1 469.2,149.8 469.7,149.6 470.2,149.4 470.7,149.2 471.2,149.0 471.7,148.8 472.2,148.6 472.7,148.7 473.2,148.8 473.7,148.9 474.2,149.0 474.7,149.1 475.2,149.2 475.7,148.7 476.2,148.2 476.7,147.7 477.2,147.2 477.7,146.8 478.2,146.5 478.7,146.1 479.2,145.8 479.7,145.9 480.2,146.0 480.7,146.1 481.2,146.2 481.7,146.4 482.2,146.7 482.7,146.9 483.2,147.2 483.7,147.0 484.2,146.9 484.7,146.7 485.2,146.6 485.7,147.6 486.2,148.8 486.7,149.8 487.2,149.6 487.7,149.4 488.2,149.2 488.7,148.4 489.2,147.4 489.7,146.5 490.2,145.5 490.7,144.4 491.2,143.3 491.7,143.5 492.2,143.8 492.7,144.2 493.2,144.5 493.7,144.8 494.2,145.1 494.7,144.3 495.2,143.3 495.7,142.3 496.2,141.3 496.7,140.7 497.2,140.2 497.7,139.7 498.2,139.2 498.7,138.6 499.2,137.8 499.7,137.1 500.2,136.3 500.7,136.5 501.2,137.0 501.7,137.5 502.2,138.0 502.7,138.8 503.2,139.8 503.7,140.7 504.2,140.4 504.7,139.0 505.2,137.5 505.7,137.9 506.2,139.0 506.7,140.1 507.2,140.4 507.7,140.7 508.2,141.1 508.7,145.0 509.2,150.5 509.7,151.1 510.2,149.0 510.7,146.5 511.2,144.0 511.7,141.5 512.2,139.0 512.7,136.5 513.2,136.0 513.7,135.9 514.2,135.8 514.7,136.0 515.2,136.4 515.7,136.9 516.2,138.0 516.7,140.2 517.2,142.3 517.7,142.7 518.2,142.0 518.7,141.3 519.2,140.7 519.7,140.0 520.2,139.4 520.7,138.8 521.2,138.1 521.7,137.5 522.2,136.8 522.7,136.4 523.2,136.2 523.7,136.0 524.2,135.8 524.7,135.9 525.2,136.3 525.7,136.6 526.2,137.0 526.7,137.5 527.2,138.3 527.7,139.0 528.2,139.8 528.7,140.3 529.2,140.5 529.7,140.8 530.2,141.0 530.7,141.0 531.2,140.8 531.7,140.5 532.2,140.3 532.7,139.8 533.2,139.1 533.7,138.3 534.2,137.6 534.7,137.0 535.2,136.6 535.7,136.3 536.2,135.9 536.7,135.5 537.2,135.0 537.7,134.5 538.2,134.0 538.7,133.9 539.2,134.2 539.7,134.6 540.2,134.9 540.7,134.6 541.2,133.1 541.7,132.8 542.2,134.5 542.7,136.3 543.2,136.5 543.7,135.2 544.2,134.0 544.7,132.9 545.2,132.3 545.7,131.7 546.2,131.3 546.7,133.1 547.2,134.9 547.7,135.3 548.2,132.5 548.7,130.5" fill="none" stroke="#3f71bf" stroke-width="2.4" stroke-linejoin="round"/>
<polyline points="31.2,184.8 31.7,185.7 32.2,186.7 32.7,187.6 33.2,188.5 33.7,189.5 34.2,190.2 34.7,190.5 35.2,190.8 35.7,191.1 36.2,191.4 36.7,191.7 37.2,192.0 37.7,192.3 38.2,192.5 38.7,192.3 39.2,192.2 39.7,192.1 40.2,191.9 40.7,191.8 41.2,192.0 41.7,193.0 42.2,194.0 42.7,195.0 43.2,195.7 43.7,195.8 44.2,195.9 44.7,196.0 45.2,196.1 45.7,196.1 46.2,196.2 46.7,196.3 47.2,196.4 47.7,196.5 48.2,196.5 48.7,196.3 49.2,196.1 49.7,195.9 50.2,195.7 50.7,195.5 51.2,195.3 51.7,195.1 52.2,194.9 52.7,194.7 53.2,194.6 53.7,194.9 54.2,195.3 54.7,195.6 55.2,196.0 55.7,196.4 56.2,196.7 56.7,197.1 57.2,197.4 57.7,197.8 58.2,198.1 58.7,197.9 59.2,197.6 59.7,197.3 60.2,197.1 60.7,196.8 61.2,196.6 61.7,197.2 62.2,197.8 62.7,198.4 63.2,199.0 63.7,199.6 64.2,200.2 64.7,202.2 65.2,204.2 65.7,203.4 66.2,202.7 66.7,201.9 67.2,201.2 67.7,200.4 68.2,199.7 68.7,198.9 69.2,198.2 69.7,197.9 70.2,197.6 70.7,197.3 71.2,197.0 71.7,196.7 72.2,196.4 72.7,196.1 73.2,195.8 73.7,195.5 74.2,195.2 74.7,195.5 75.2,196.0 75.7,196.4 76.2,196.9 76.7,197.3 77.2,197.8 77.7,198.2 78.2,198.7 78.7,199.1 79.2,199.6 79.7,200.0 80.2,200.4 80.7,200.8 81.2,201.2 81.7,201.5 82.2,201.9 82.7,202.3 83.2,202.7 83.7,200.6 84.2,197.9 84.7,195.3 85.2,192.6 85.7,193.3 86.2,194.7 86.7,196.1 87.2,197.4 87.7,198.6 88.2,199.9 88.7,199.9 89.2,199.7 89.7,199.4 90.2,199.1 90.7,198.9 91.2,198.6 91.7,198.4 92.2,198.2 92.7,198.0 93.2,197.8 93.7,197.6 94.2,197.4 94.7,197.2 95.2,197.0 95.7,196.8 96.2,196.6 96.7,196.4 97.2,196.2 97.7,196.3 98.2,196.5 98.7,196.7 99.2,196.9 99.7,197.1 100.2,197.3 100.7,197.5 101.2,197.7 101.7,197.9 102.2,198.1 102.7,197.7 103.2,196.9 103.7,196.2 104.2,195.4 104.7,194.7 105.2,193.9 105.7,193.2 106.2,192.4 106.7,192.0 107.2,191.7 107.7,191.5 108.2,191.2 108.7,191.7 109.2,192.7 109.7,193.8 110.2,194.8 110.7,195.9 111.2,195.2 111.7,193.9 112.2,192.7 112.7,192.6 113.2,193.6 113.7,194.6 114.2,195.6 114.7,196.6 115.2,197.6 115.7,198.1 116.2,198.1 116.7,198.0 117.2,198.0 117.7,197.9 118.2,197.9 118.7,197.8 119.2,197.8 119.7,197.6 120.2,197.4 120.7,197.2 121.2,197.0 121.7,196.8 122.2,196.6 122.7,196.4 123.2,196.2 123.7,196.1 124.2,195.9 124.7,195.7 125.2,195.6 125.7,195.4 126.2,195.2 126.7,195.2 127.2,195.2 127.7,195.3 128.2,195.4 128.7,195.5 129.2,195.5 129.7,195.6 130.2,195.7 130.7,195.7 131.2,195.5 131.7,195.4 132.2,195.3 132.7,195.1 133.2,195.0 133.7,194.9 134.2,194.7 134.7,194.6 135.2,194.5 135.7,194.3 136.2,194.2 136.7,194.0 137.2,193.8 137.7,193.5 138.2,193.2 138.7,193.0 139.2,192.7 139.7,192.5 140.2,192.7 140.7,192.8 141.2,192.9 141.7,193.0 142.2,193.1 142.7,193.3 143.2,193.4 143.7,193.5 144.2,193.6 144.7,193.8 145.2,193.8 145.7,193.9 146.2,193.9 146.7,194.0 147.2,194.0 147.7,194.1 148.2,194.1 148.7,193.9 149.2,193.7 149.7,193.5 150.2,193.3 150.7,193.1 151.2,192.9 151.7,192.7 152.2,192.6 152.7,192.7 153.2,192.9 153.7,193.0 154.2,193.2 154.7,193.3 155.2,193.5 155.7,193.6 156.2,193.8 156.7,194.4 157.2,195.0 157.7,195.6 158.2,196.3 158.7,196.9 159.2,197.5 159.7,198.2 160.2,198.8 160.7,199.5 161.2,200.1 161.7,200.7 162.2,201.4 162.7,202.0 163.2,202.5 163.7,202.0 164.2,201.6 164.7,201.1 165.2,200.6 165.7,200.2 166.2,199.7 166.7,199.3 167.2,198.8 167.7,198.4 168.2,198.0 168.7,197.5 169.2,197.1 169.7,196.8 170.2,196.4 170.7,196.1 171.2,195.7 171.7,196.0 172.2,196.2 172.7,196.4 173.2,196.7 173.7,196.9 174.2,197.1 174.7,197.5 175.2,197.8 175.7,198.1 176.2,198.4 176.7,198.8 177.2,199.1 177.7,199.4 178.2,199.7 178.7,200.3 179.2,200.9 179.7,201.5 180.2,202.1 180.7,202.6 181.2,203.1 181.7,203.6 182.2,204.1 182.7,204.6 183.2,205.1 183.7,205.3 184.2,205.5 184.7,205.7 185.2,205.8 185.7,206.0 186.2,206.2 186.7,205.5 187.2,204.7 187.7,204.0 188.2,203.2 188.7,203.0 189.2,202.9 189.7,202.7 190.2,202.5 190.7,202.4 191.2,202.2 191.7,202.3 192.2,202.5 192.7,202.6 193.2,202.8 193.7,203.0 194.2,203.1 194.7,203.0 195.2,202.9 195.7,202.7 196.2,202.5 196.7,202.4 197.2,202.2 197.7,202.4 198.2,202.8 198.7,203.1 199.2,203.4 199.7,203.8 200.2,204.1 200.7,204.3 201.2,204.5 201.7,204.6 202.2,204.8 202.7,205.0 203.2,205.1 203.7,205.3 204.2,205.4 204.7,205.6 205.2,205.7 205.7,205.7 206.2,205.7 206.7,205.6 207.2,205.5 207.7,205.5 208.2,205.4 208.7,205.1 209.2,204.7 209.7,204.3 210.2,203.9 210.7,203.5 211.2,203.1 211.7,202.7 212.2,202.3 212.7,201.9 213.2,201.6 213.7,201.3 214.2,200.9 214.7,200.6 215.2,200.3 215.7,199.9 216.2,199.5 216.7,199.2 217.2,198.8 217.7,198.4 218.2,198.0 218.7,197.7 219.2,197.3 219.7,197.0 220.2,196.7 220.7,196.4 221.2,196.1 221.7,195.8 222.2,195.6 222.7,195.3 223.2,195.0 223.7,194.7 224.2,194.3 224.7,193.5 225.2,192.8 225.7,192.1 226.2,191.3 226.7,190.6 227.2,189.8 227.7,188.9 228.2,187.9 228.7,186.9 229.2,186.0 229.7,185.2 230.2,184.7 230.7,184.2 231.2,183.5 231.7,182.5 232.2,181.6 232.7,180.7 233.2,179.8 233.7,178.9 234.2,178.0 234.7,177.1 235.2,176.1 235.7,175.3 236.2,174.6 236.7,173.9 237.2,173.2 237.7,172.5 238.2,171.8 238.7,171.1 239.2,170.1 239.7,169.0 240.2,167.9 240.7,166.8 241.2,165.7 241.7,164.6 242.2,163.5 242.7,162.8 243.2,162.1 243.7,161.4 244.2,160.7 244.7,160.0 245.2,159.3 245.7,158.7 246.2,158.1 246.7,157.6 247.2,157.0 247.7,156.4 248.2,155.9 248.7,155.3 249.2,155.0 249.7,154.9 250.2,154.8 250.7,154.6 251.2,154.9 251.7,155.3 252.2,155.8 252.7,156.3 253.2,156.7 253.7,157.2 254.2,157.6 254.7,158.1 255.2,158.5 255.7,158.7 256.2,158.0 256.7,157.3 257.2,156.6 257.7,155.9 258.2,155.2 258.7,154.5 259.2,153.7 259.7,153.0 260.2,152.2 260.7,151.5 261.2,150.5 261.7,149.3 262.2,148.0 262.7,146.8 263.2,145.3 263.7,143.6 264.2,141.8 264.7,140.1 265.2,138.5 265.7,136.8 266.2,135.1 266.7,133.7 267.2,132.4 267.7,131.0 268.2,129.7 268.7,128.9 269.2,128.3 269.7,127.7 270.2,127.0 270.7,126.4 271.2,125.9 271.7,125.4 272.2,125.0 272.7,124.6 273.2,124.2 273.7,123.7 274.2,123.3 274.7,122.9 275.2,122.4 275.7,122.0 276.2,119.3 276.7,116.6 277.2,114.0 277.7,112.0 278.2,110.0 278.7,108.0 279.2,106.0 279.7,104.8 280.2,103.5 280.7,102.3 281.2,101.1 281.7,101.4 282.2,101.6 282.7,101.9 283.2,102.1 283.7,101.6 284.2,101.1 284.7,100.6 285.2,100.0 285.7,97.5 286.2,95.0 286.7,92.5 287.2,90.1 287.7,92.6 288.2,95.1 288.7,97.6 289.2,100.1 289.7,100.0 290.2,99.9 290.7,99.8 291.2,99.7 291.7,99.4 292.2,99.1 292.7,98.8 293.2,98.5 293.7,97.6 294.2,96.6 294.7,95.6 295.2,94.6 295.7,95.1 296.2,95.7 296.7,96.4 297.2,97.0 297.7,97.7 298.2,98.4 298.7,99.0 299.2,99.7 299.7,100.4 300.2,101.0 300.7,102.0 301.2,103.0 301.7,104.0 302.2,105.0 302.7,105.4 303.2,105.7 303.7,106.1 304.2,106.4 304.7,106.7 305.2,107.1 305.7,106.9 306.2,106.7 306.7,106.4 307.2,106.2 307.7,104.5 308.2,102.5 308.7,100.5 309.2,98.5 309.7,96.9 310.2,95.4 310.7,93.9 311.2,92.4 311.7,93.2 312.2,94.7 312.7,96.2 313.2,97.7 313.7,99.2 314.2,100.7 314.7,100.7 315.2,100.2 315.7,99.7 316.2,99.2 316.7,99.6 317.2,100.2 317.7,100.9 318.2,101.6 318.7,102.2 319.2,102.9 319.7,103.6 320.2,104.4 320.7,105.1 321.2,105.9 321.7,107.0 322.2,108.2 322.7,109.5 323.2,110.7 323.7,111.8 324.2,112.8 324.7,113.8 325.2,114.8 325.7,116.1 326.2,117.6 326.7,119.1 327.2,120.6 327.7,122.1 328.2,123.6 328.7,125.0 329.2,126.2 329.7,127.5 330.2,128.7 330.7,130.2 331.2,132.0 331.7,133.7 332.2,135.5 332.7,136.8 333.2,137.8 333.7,138.8 334.2,139.8 334.7,140.9 335.2,141.9 335.7,143.0 336.2,144.0 336.7,145.1 337.2,146.2 337.7,147.2 338.2,150.2 338.7,153.3 339.2,156.5 339.7,159.6 340.2,160.5 340.7,161.1 341.2,155.2 341.7,148.1 342.2,141.0 342.7,138.3 343.2,136.5 343.7,134.8 344.2,133.0 344.7,131.3 345.2,130.1 345.7,129.1 346.2,128.1 346.7,127.1 347.2,126.1 347.7,126.3 348.2,127.0 348.7,127.8 349.2,128.5 349.7,129.3 350.2,130.9 350.7,133.1 351.2,135.2 351.7,137.3 352.2,138.8 352.7,140.3 353.2,140.1 353.7,138.5 354.2,137.0 354.7,135.4 355.2,133.4 355.7,130.9 356.2,128.4 356.7,125.9 357.2,119.6 357.7,113.1 358.2,106.8 358.7,100.8 359.2,94.8 359.7,94.8 360.2,95.5 360.7,96.3 361.2,97.0 361.7,97.8 362.2,98.8 362.7,99.8 363.2,100.8 363.7,101.8 364.2,102.8 364.7,104.1 365.2,105.6 365.7,107.1 366.2,108.6 366.7,110.1 367.2,111.6 367.7,113.1 368.2,114.6 368.7,116.1 369.2,117.6 369.7,119.0 370.2,120.2 370.7,121.5 371.2,123.4 371.7,124.1 372.2,124.8 372.7,125.1 373.2,124.8 373.7,124.5 374.2,124.3 374.7,124.7 375.2,125.1 375.7,125.5 376.2,125.8 376.7,125.8 377.2,125.8 377.7,125.8 378.2,125.8 378.7,125.8 379.2,125.9 379.7,126.1 380.2,126.3 380.7,126.6 381.2,126.8 381.7,127.0 382.2,127.3 382.7,127.8 383.2,128.3 383.7,128.8 384.2,129.3 384.7,130.1 385.2,130.8 385.7,131.6 386.2,132.4 386.7,133.9 387.2,135.4 387.7,136.9 388.2,138.4 388.7,139.4 389.2,140.4 389.7,141.4 390.2,142.4 390.7,143.4 391.2,144.4 391.7,145.4 392.2,146.4 392.7,147.0 393.2,147.7 393.7,148.4 394.2,149.0 394.7,149.7 395.2,150.4 395.7,151.0 396.2,151.7 396.7,152.4 397.2,153.0 397.7,153.7 398.2,154.4 398.7,154.9 399.2,155.4 399.7,156.7 400.2,157.1 400.7,157.4 401.2,157.7 401.7,158.0 402.2,158.3 402.7,158.6 403.2,158.9 403.7,159.2 404.2,159.5 404.7,160.4 405.2,161.4 405.7,162.4 406.2,163.3 406.7,164.3 407.2,165.3 407.7,166.3 408.2,167.2 408.7,167.9 409.2,168.5 409.7,169.2 410.2,169.8 410.7,170.4 411.2,171.0 411.7,171.7 412.2,172.3 412.7,172.9 413.2,173.6 413.7,174.2 414.2,174.8 414.7,175.5 415.2,176.1 415.7,176.7 416.2,177.3 416.7,178.0 417.2,178.6 417.7,179.2 418.2,179.9 418.7,180.5 419.2,181.1 419.7,181.8 420.2,182.5 420.7,183.2 421.2,183.9 421.7,184.6 422.2,185.2 422.7,185.9 423.2,186.5 423.7,187.1 424.2,187.6 424.7,188.2 425.2,188.8 425.7,189.3 426.2,189.9 426.7,190.4 427.2,191.0 427.7,191.5 428.2,192.1 428.7,192.3 429.2,192.4 429.7,192.5 430.2,192.6 430.7,192.7 431.2,192.8 431.7,192.8 432.2,192.9 432.7,193.0 433.2,193.1 433.7,193.3 434.2,193.5 434.7,193.6 435.2,193.8 435.7,193.9 436.2,193.9 436.7,193.9 437.2,193.9 437.7,193.9 438.2,193.9 438.7,193.8 439.2,193.6 439.7,193.5 440.2,193.3 440.7,193.4 441.2,193.7 441.7,193.9 442.2,194.2 442.7,194.4 443.2,194.7 443.7,194.9 444.2,195.2 444.7,195.0 445.2,194.6 445.7,194.2 446.2,193.7 446.7,193.3 447.2,192.9 447.7,192.4 448.2,191.8 448.7,191.2 449.2,190.7 449.7,190.1 450.2,189.5 450.7,189.1 451.2,188.8 451.7,188.4 452.2,188.1 452.7,187.8 453.2,187.4 453.7,187.2 454.2,187.0 454.7,186.8 455.2,186.7 455.7,186.5 456.2,186.3 456.7,186.4 457.2,186.7 457.7,187.0 458.2,187.4 458.7,186.7 459.2,186.8 459.7,187.0 460.2,187.0 460.7,186.7 461.2,186.3 461.7,186.0 462.2,185.7 462.7,185.8 463.2,185.9 463.7,186.0 464.2,186.1 464.7,186.2 465.2,186.2 465.7,186.3 466.2,186.4 466.7,186.4 467.2,186.5 467.7,186.5 468.2,186.5 468.7,186.5 469.2,186.5 469.7,186.5 470.2,186.5 470.7,186.5 471.2,186.5 471.7,186.5 472.2,186.5 472.7,186.5 473.2,186.5 473.7,186.6 474.2,186.7 474.7,186.8 475.2,186.9 475.7,187.0 476.2,187.1 476.7,187.3 477.2,187.4 477.7,187.6 478.2,187.8 478.7,187.9 479.2,188.1 479.7,188.3 480.2,188.6 480.7,188.8 481.2,189.1 481.7,189.2 482.2,189.4 482.7,189.5 483.2,189.7 483.7,189.6 484.2,189.4 484.7,189.3 485.2,189.1 485.7,189.2 486.2,189.4 486.7,189.6 487.2,189.7 487.7,189.9 488.2,190.1 488.7,190.3 489.2,190.6 489.7,190.9 490.2,191.1 490.7,191.4 491.2,191.7 491.7,191.8 492.2,191.8 492.7,191.9 493.2,192.0 493.7,192.0 494.2,192.1 494.7,192.2 495.2,192.3 495.7,192.4 496.2,192.5 496.7,192.7 497.2,192.9 497.7,193.1 498.2,193.3 498.7,193.5 499.2,193.7 499.7,194.0 500.2,194.3 500.7,194.7 501.2,195.0 501.7,194.9 502.2,194.7 502.7,194.4 503.2,194.2 503.7,193.9 504.2,193.7 504.7,193.4 505.2,193.2 505.7,192.6 506.2,191.8 506.7,191.1 507.2,190.3 507.7,189.7 508.2,189.1 508.7,188.5 509.2,187.9 509.7,189.2 510.2,191.4 510.7,193.2 511.2,194.7 511.7,196.3 512.2,197.5 512.7,198.2 513.2,198.9 513.7,198.7 514.2,197.9 514.7,197.2 515.2,196.4 515.7,196.2 516.2,196.4 516.7,196.6 517.2,196.7 517.7,196.9 518.2,197.1 518.7,197.3 519.2,197.5 519.7,197.8 520.2,198.0 520.7,198.4 521.2,198.8 521.7,199.2 522.2,199.6 522.7,200.0 523.2,200.4 523.7,200.5 524.2,200.3 524.7,200.2 525.2,200.1 525.7,199.9 526.2,199.8 526.7,199.8 527.2,199.9 527.7,200.0 528.2,200.1 528.7,200.4 529.2,200.9 529.7,201.4 530.2,201.9 530.7,202.3 531.2,202.5 531.7,202.8 532.2,203.0 532.7,203.3 533.2,203.5 533.7,203.7 534.2,204.0 534.7,204.2 535.2,204.4 535.7,204.6 536.2,204.7 536.7,204.8 537.2,204.9 537.7,205.0 538.2,205.1 538.7,205.1 539.2,205.0 539.7,204.9 540.2,204.8 540.7,204.7 541.2,204.6 541.7,204.6 542.2,204.6 542.7,204.6 543.2,204.6 543.7,204.6 544.2,204.6 544.7,204.6 545.2,204.8 545.7,204.9 546.2,205.1 546.7,205.3 547.2,205.5 547.7,205.8 548.2,206.0 548.7,206.2" fill="none" stroke="#687f30" stroke-width="2" stroke-dasharray="6.4 5.6"/>
<text x="17.3" y="77.7" text-anchor="end" class="ax">12</text>
<text x="17.3" y="111.0" text-anchor="end" class="ax">10</text>
<text x="17.3" y="144.4" text-anchor="end" class="ax">8</text>
<text x="17.3" y="177.7" text-anchor="end" class="ax">6</text>
<text x="17.3" y="211.0" text-anchor="end" class="ax">4</text>
<text x="17.3" y="244.3" text-anchor="end" class="ax">2</text>
<text x="17.3" y="277.7" text-anchor="end" class="ax">0</text>
<text x="562.3" y="77.5" class="ax">8000</text>
<text x="562.3" y="102.5" class="ax">7000</text>
<text x="562.3" y="127.5" class="ax">6000</text>
<text x="562.3" y="152.5" class="ax">5000</text>
<text x="562.3" y="177.5" class="ax">4000</text>
<text x="562.3" y="202.5" class="ax">3000</text>
<text x="562.3" y="227.5" class="ax">2000</text>
<text x="562.3" y="252.5" class="ax">1000</text>
<text x="562.3" y="277.5" class="ax">0</text>
<text transform="translate(36.2,283.2) rotate(-90)" text-anchor="end" class="xl">Jan 1999</text>
<text transform="translate(55.2,283.2) rotate(-90)" text-anchor="end" class="xl">Sep 1999</text>
<text transform="translate(74.2,283.2) rotate(-90)" text-anchor="end" class="xl">May 2000</text>
<text transform="translate(93.2,283.2) rotate(-90)" text-anchor="end" class="xl">Jan 2001</text>
<text transform="translate(112.2,283.2) rotate(-90)" text-anchor="end" class="xl">Sep 2001</text>
<text transform="translate(131.2,283.2) rotate(-90)" text-anchor="end" class="xl">May 2002</text>
<text transform="translate(150.2,283.2) rotate(-90)" text-anchor="end" class="xl">Jan 2003</text>
<text transform="translate(169.2,283.2) rotate(-90)" text-anchor="end" class="xl">Sep 2003</text>
<text transform="translate(188.2,283.2) rotate(-90)" text-anchor="end" class="xl">May 2004</text>
<text transform="translate(207.1,283.2) rotate(-90)" text-anchor="end" class="xl">Jan 2005</text>
<text transform="translate(226.1,283.2) rotate(-90)" text-anchor="end" class="xl">Sep 2005</text>
<text transform="translate(245.1,283.2) rotate(-90)" text-anchor="end" class="xl">May 2006</text>
<text transform="translate(264.1,283.2) rotate(-90)" text-anchor="end" class="xl">Jan 2007</text>
<text transform="translate(283.1,283.2) rotate(-90)" text-anchor="end" class="xl">Sep 2007</text>
<text transform="translate(302.1,283.2) rotate(-90)" text-anchor="end" class="xl">May 2008</text>
<text transform="translate(321.1,283.2) rotate(-90)" text-anchor="end" class="xl">Jan 2009</text>
<text transform="translate(340.1,283.2) rotate(-90)" text-anchor="end" class="xl">Sep 2009</text>
<text transform="translate(359.1,283.2) rotate(-90)" text-anchor="end" class="xl">May 2010</text>
<text transform="translate(378.1,283.2) rotate(-90)" text-anchor="end" class="xl">Jan 2011</text>
<text transform="translate(397.1,283.2) rotate(-90)" text-anchor="end" class="xl">Sep 2011</text>
<text transform="translate(416.1,283.2) rotate(-90)" text-anchor="end" class="xl">May 2012</text>
<text transform="translate(435.1,283.2) rotate(-90)" text-anchor="end" class="xl">Jan 2013</text>
<text transform="translate(454.1,283.2) rotate(-90)" text-anchor="end" class="xl">Sep 2013</text>
<text transform="translate(473.1,283.2) rotate(-90)" text-anchor="end" class="xl">May 2014</text>
<text transform="translate(492.1,283.2) rotate(-90)" text-anchor="end" class="xl">Jan 2015</text>
<text transform="translate(511.1,283.2) rotate(-90)" text-anchor="end" class="xl">Sep 2015</text>
<text transform="translate(530.1,283.2) rotate(-90)" text-anchor="end" class="xl">May 2016</text>
<text transform="translate(549.1,283.2) rotate(-90)" text-anchor="end" class="xl">Jan 2017</text>
<line x1="139.6" y1="364" x2="171.6" y2="364" stroke="#687f30" stroke-width="2" stroke-dasharray="6.4 5.6"/>
<text x="174.5" y="367.6" class="lg">Months supply of existing homes on market (Months, SA)</text>
<line x1="139.3" y1="386.4" x2="171.7" y2="386.4" stroke="#3f71bf" stroke-width="2.2"/>
<text x="174.5" y="389.6" class="lg">Existing Home Sales (Ths., SAAR)</text>
<line x1="139.3" y1="409" x2="171.7" y2="409" stroke="#c23a36" stroke-width="3"/>
<text x="174.5" y="412.1" class="lg">Number of homes available for sale (Ths., SA)</text>
</svg>
</body></html>
